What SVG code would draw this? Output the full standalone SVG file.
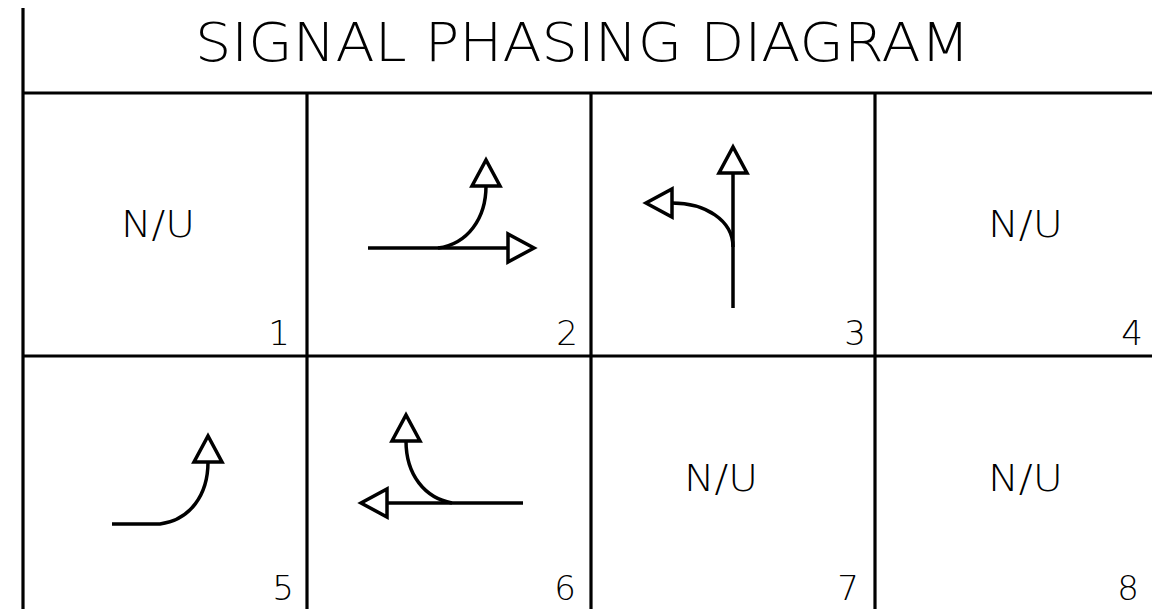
<svg xmlns="http://www.w3.org/2000/svg" width="1152" height="609" viewBox="0 0 1152 609">
<style>
.grid{stroke:#000;stroke-width:3.2;fill:none}
.t{font-family:"DejaVu Sans","Liberation Sans",sans-serif;font-weight:200;fill:#000}
.nu{font-size:37px}
.num{font-size:34px;text-anchor:end}
.arr{stroke:#000;stroke-width:3.5;fill:none}
.head{stroke:#000;stroke-width:3.5;fill:#fff;stroke-linejoin:miter}
</style>
<rect width="1152" height="609" fill="#fff"/>
<g id="frame" class="grid">
<line x1="23" y1="8" x2="23" y2="609"/>
<line x1="23" y1="93" x2="1152" y2="93"/>
<line x1="23" y1="356" x2="1152" y2="356"/>
<line x1="307" y1="93" x2="307" y2="609"/>
<line x1="591" y1="93" x2="591" y2="609"/>
<line x1="875" y1="93" x2="875" y2="609"/>
</g>
<text id="title" class="t" x="195" y="61" font-size="54" textLength="775" lengthAdjust="spacingAndGlyphs">SIGNAL PHASING DIAGRAM</text>
<g id="phase1">
<text class="t nu" x="121" y="237" textLength="74" lengthAdjust="spacingAndGlyphs">N/U</text>
<text class="t num" x="290" y="345">1</text>
</g>
<g id="phase2">
<path class="arr" d="M368,248 H508"/>
<path class="arr" d="M438,248 C468,244 486,218 486,186"/>
<polygon class="head" points="508,234 508,262 534,248"/>
<polygon class="head" points="472,186 500,186 486,160"/>
<text class="t num" x="578" y="345" font-weight="normal">2</text>
</g>
<g id="phase3">
<path class="arr" d="M733,308 V173"/>
<path class="arr" d="M733,247 C733,220 705,203 672,203"/>
<polygon class="head" points="719,173 747,173 733,147"/>
<polygon class="head" points="672,189 672,217 646,203"/>
<text class="t num" x="866" y="345">3</text>
</g>
<g id="phase4">
<text class="t nu" x="988" y="237" textLength="75" lengthAdjust="spacingAndGlyphs">N/U</text>
<text class="t num" x="1143" y="345">4</text>
</g>
<g id="phase5">
<path class="arr" d="M112,524 H160 C190,520 208,495 208,462"/>
<polygon class="head" points="194,462 222,462 208,436"/>
<text class="t num" x="294" y="600">5</text>
</g>
<g id="phase6">
<path class="arr" d="M523,503 H387"/>
<path class="arr" d="M452,503 C425,498 406,475 406,441"/>
<polygon class="head" points="387,489 387,517 361,503"/>
<polygon class="head" points="392,441 420,441 406,415"/>
<text class="t num" x="576" y="600">6</text>
</g>
<g id="phase7">
<text class="t nu" x="684" y="491" textLength="74" lengthAdjust="spacingAndGlyphs">N/U</text>
<text class="t num" x="859" y="600">7</text>
</g>
<g id="phase8">
<text class="t nu" x="988" y="491" textLength="75" lengthAdjust="spacingAndGlyphs">N/U</text>
<text class="t num" x="1139" y="600">8</text>
</g>
</svg>
